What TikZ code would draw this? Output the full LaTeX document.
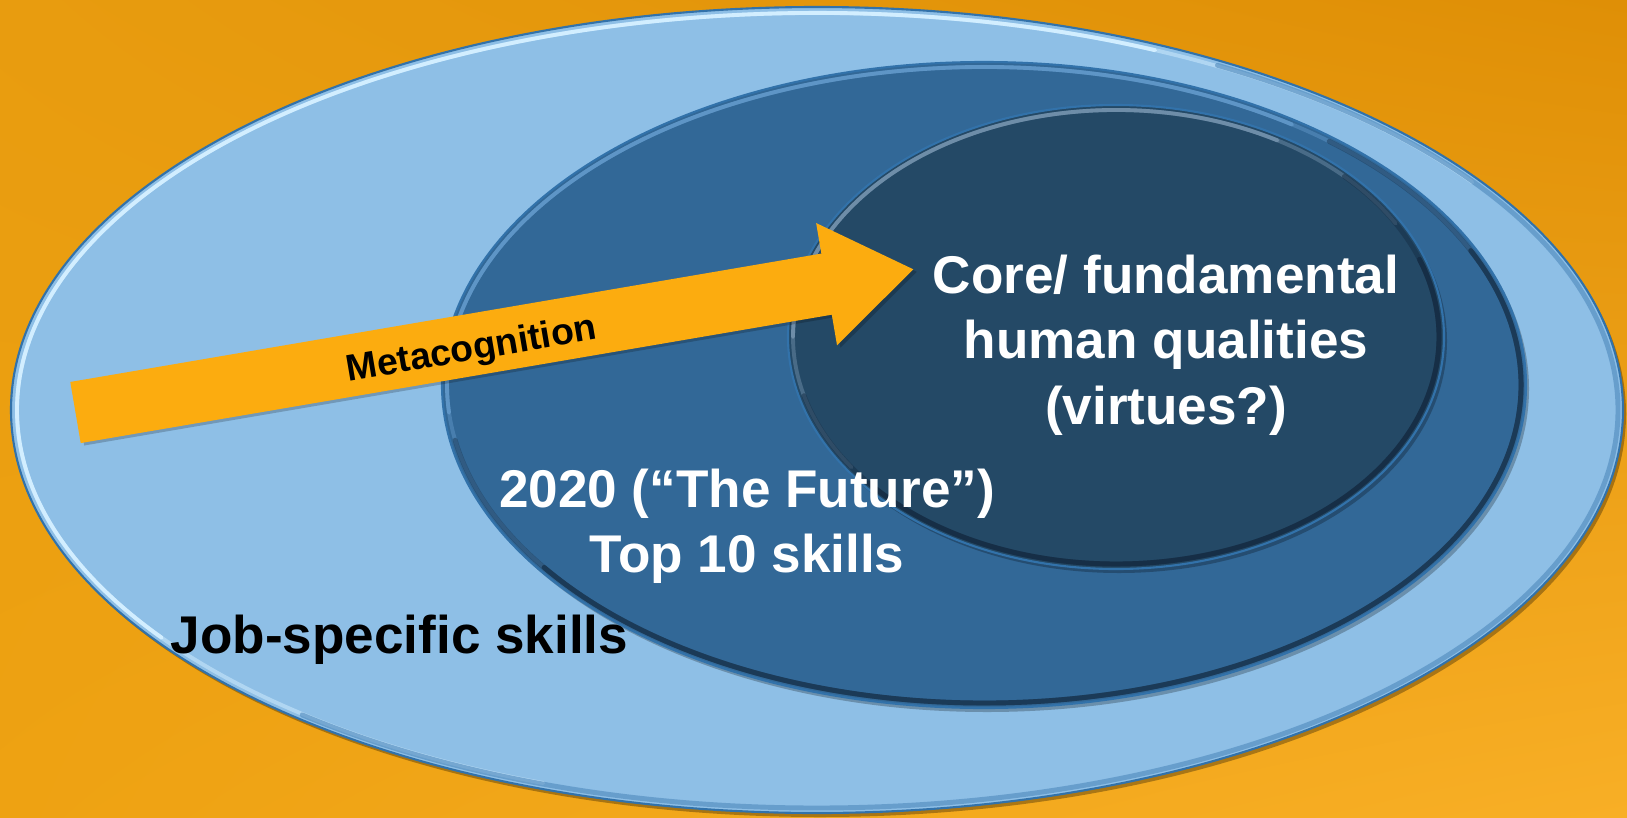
\documentclass[tikz,border=0pt]{standalone}
\usepackage{fontspec}
\setmainfont{Liberation Sans}
\usetikzlibrary{calc,shadings}

\definecolor{bgtl}{HTML}{E89C0F}
\definecolor{bgtr}{HTML}{DF8F06}
\definecolor{bgbl}{HTML}{EEA212}
\definecolor{bgbr}{HTML}{F8AF26}
\definecolor{skylt}{HTML}{8EBFE6}
\definecolor{skyhi}{HTML}{D2EEFF}
\definecolor{skyrim}{HTML}{3272AA}
\definecolor{midblue}{HTML}{326897}
\definecolor{midhi}{HTML}{5E95C6}
\definecolor{deepblue}{HTML}{244966}
\definecolor{deephi}{HTML}{6E8DA8}
\definecolor{shadeblue}{HTML}{1B3A57}
\definecolor{arroworange}{HTML}{FCAC0F}

\begin{document}
\begin{tikzpicture}[x=0.01cm, y=0.01cm,
    rimlight/.style={line width=1.1pt, line cap=round},
    rimdark/.style={line width=1.4pt, line cap=round},
    rimline/.style={line width=0.6pt},
    label/.style={font=\bfseries\fontsize{15.1}{18.6}\selectfont, align=center, inner sep=0pt}]
    % Background
    \shade[upper left=bgtl, upper right=bgtr, lower left=bgbl, lower right=bgbr] (0,0) rectangle (1627,817);
    \useasboundingbox (0,0) rectangle (1627,817);

    % Outer ellipse (job-specific skills)
    \fill[black, opacity=0.3] (820,403) ellipse [x radius=806, y radius=403]; % Shadow
    \fill[skylt] (817,407) ellipse [x radius=806, y radius=403];
    \begin{scope}[shift={(817,407)}]
        \draw[skyhi, rimlight, opacity=0.5] (35:800 and 397) arc [start angle=35, end angle=250, x radius=800, y radius=397];
        \draw[skyhi, rimlight] (65:800 and 397) arc [start angle=65, end angle=215, x radius=800, y radius=397];
        \draw[skyrim!70!skylt, rimdark, opacity=0.6] (230:801 and 398) arc [start angle=230, end angle=420, x radius=801, y radius=398];
    \end{scope}
    \draw[skyrim, rimline] (817,407) ellipse [x radius=806, y radius=403];

    % Middle ellipse (2020 skills)
    \fill[black, opacity=0.25] (987,428) ellipse [x radius=542, y radius=323]; % Shadow
    \fill[midblue] (984,432) ellipse [x radius=542, y radius=323];
    \begin{scope}[shift={(984,432)}]
        \draw[midhi, rimlight, opacity=0.5] (25:537 and 318) arc [start angle=25, end angle=215, x radius=537, y radius=318];
        \draw[midhi, rimlight] (55:537 and 318) arc [start angle=55, end angle=185, x radius=537, y radius=318];
        \draw[shadeblue, rimdark, opacity=0.5] (190:537 and 318) arc [start angle=190, end angle=410, x radius=537, y radius=318];
        \draw[shadeblue, rimdark] (215:537 and 318) arc [start angle=215, end angle=385, x radius=537, y radius=318];
    \end{scope}
    \draw[skyrim, rimline] (984,432) ellipse [x radius=542, y radius=323];

    % Inner ellipse (core qualities)
    \fill[black, opacity=0.25] (1119,476) ellipse [x radius=328, y radius=232]; % Shadow
    \fill[deepblue] (1116,480) ellipse [x radius=328, y radius=232];
    \begin{scope}[shift={(1116,480)}]
        \draw[deephi, rimlight, opacity=0.5] (30:323 and 227) arc [start angle=30, end angle=215, x radius=323, y radius=227];
        \draw[deephi, rimlight] (60:323 and 227) arc [start angle=60, end angle=180, x radius=323, y radius=227];
        \draw[shadeblue!80!black, rimdark, opacity=0.5] (195:323 and 227) arc [start angle=195, end angle=405, x radius=323, y radius=227];
        \draw[shadeblue!80!black, rimdark] (220:323 and 227) arc [start angle=220, end angle=380, x radius=323, y radius=227];
    \end{scope}
    \draw[skyrim, rimline] (1116,480) ellipse [x radius=328, y radius=232];

    % Metacognition arrow
    \begin{scope}[shift={(75.5,404.5)}, rotate=9.7]
        \fill[black, opacity=0.2] (3,28) -- (765,28) -- (765,59) -- (853,-3) -- (765,-65) -- (765,-34) -- (3,-34) -- cycle;
        \fill[arroworange] (0,31) -- (762,31) -- (762,62) -- (850,0) -- (762,-62) -- (762,-31) -- (0,-31) -- cycle;
        \node[font=\bfseries\fontsize{10.6}{12}\selectfont, inner sep=0pt, rotate=9.7] (meta) at (401,-6) {Metacognition};
    \end{scope}

    % Labels
    \node[label, white] (core) at (1166,472) {Core/ fundamental\\human qualities\\(virtues?)};
    \node[label, white] (future) at (747,291) {2020 (“The Future”)\\Top 10 skills};
    \node[label, black, anchor=base] (job) at (399.5,164) {Job-specific skills};
\end{tikzpicture}
\end{document}
